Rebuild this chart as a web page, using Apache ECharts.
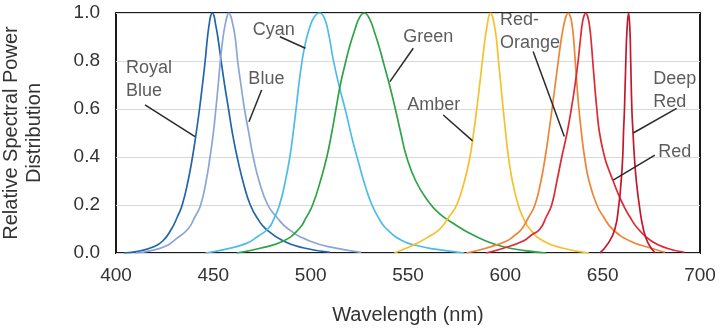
<!DOCTYPE html>
<html><head><meta charset="utf-8">
<script src="https://cdn.jsdelivr.net/npm/echarts@6/dist/echarts.min.js"></script>
<style>html,body{margin:0;padding:0;background:#fff}#c{width:720px;height:330px}</style>
</head><body><div id="c"></div>
<script>
const xTicks = [400, 450, 500, 550, 600, 650, 700];
const yTicks = [0, 0.2, 0.4, 0.6, 0.8, 1.0];
const seriesNames = ['Royal Blue', 'Blue', 'Cyan', 'Green', 'Amber', 'Red-Orange', 'Red', 'Deep Red'];

const royalBlue = [[404,0],[412,0.008],[419,0.025],[424,0.05],[428.5,0.1],[431.5,0.15],[434,0.2],[437,0.3],[439.3,0.4],[441.2,0.5],[442.9,0.6],[444.4,0.7],[445.8,0.8],[447,0.9],[448,0.96],[448.7,0.99],[449.5,1.0],[450.3,0.99],[451,0.96],[452.3,0.9],[454,0.8],[455.8,0.7],[457.8,0.6],[460,0.49],[462.5,0.39],[465.5,0.29],[469,0.2],[473,0.14],[477,0.1],[486,0.05],[496,0.022],[510,0.003]];
const blue = [[410,0],[418,0.01],[426,0.03],[431,0.06],[437,0.1],[440.5,0.15],[443.5,0.2],[446.3,0.3],[448.3,0.4],[450,0.5],[451.3,0.6],[452.5,0.7],[453.6,0.8],[455,0.9],[456.3,0.96],[457.2,0.99],[458,1.0],[458.8,0.99],[459.8,0.96],[461.2,0.9],[462.5,0.8],[464.2,0.7],[466,0.6],[468,0.51],[470.5,0.4],[473.5,0.3],[478,0.2],[482.5,0.15],[488.5,0.1],[499.5,0.05],[513,0.02],[526,0.003]];
const cyan = [[446,0],[456,0.015],[467,0.04],[473,0.07],[478,0.1],[481,0.14],[484,0.2],[487,0.3],[489.3,0.4],[491,0.5],[492.5,0.6],[493.9,0.7],[495.4,0.79],[497.2,0.87],[499.5,0.94],[502,0.985],[504.5,1.0],[507,0.98],[509.3,0.91],[511.5,0.81],[514.5,0.7],[518,0.59],[521.5,0.47],[524.5,0.38],[528,0.28],[531.5,0.2],[535,0.145],[539,0.1],[547.4,0.05],[555,0.03],[563,0.017],[579,0]];
const green = [[462,0],[474,0.02],[486,0.05],[494,0.1],[497.5,0.145],[501,0.2],[505,0.3],[508.3,0.4],[510.8,0.5],[513,0.6],[515.2,0.7],[517.5,0.78],[520,0.86],[522.7,0.93],[525,0.98],[527.5,1.0],[530,0.98],[532.8,0.92],[535.5,0.85],[537.5,0.79],[540.5,0.7],[543.5,0.6],[546.3,0.5],[549.3,0.4],[554,0.3],[560,0.22],[566,0.165],[574,0.12],[580,0.09],[590,0.05],[599,0.026],[610,0.01],[621,0]];
const amber = [[543,0],[554.4,0.04],[561,0.07],[566.4,0.1],[571,0.15],[575,0.2],[579,0.3],[581.8,0.4],[583.7,0.5],[585.3,0.6],[586.8,0.7],[588.2,0.8],[589.7,0.9],[590.9,0.96],[591.6,0.99],[592.4,1.0],[593.2,0.99],[594.1,0.96],[595.3,0.9],[596.5,0.8],[597.7,0.7],[598.9,0.6],[600.2,0.5],[601.6,0.4],[603.6,0.3],[606.6,0.2],[609,0.15],[612.6,0.1],[619.5,0.05],[629.7,0.02],[643,0]];
const redOrange = [[580,0],[590,0.02],[600.7,0.05],[605,0.075],[608.4,0.1],[612,0.15],[615.2,0.2],[618.3,0.3],[620.5,0.4],[622.3,0.5],[624,0.6],[625.6,0.7],[627.2,0.8],[628.9,0.9],[630.3,0.96],[631.4,0.99],[632.3,1.0],[633.2,0.99],[634.1,0.96],[635,0.9],[635.9,0.8],[636.8,0.7],[637.8,0.6],[639.1,0.5],[640.7,0.4],[643,0.3],[647,0.2],[650.5,0.15],[655,0.1],[664,0.05],[675,0.02],[682,0.003]];
const red = [[590,0],[599,0.02],[609.2,0.05],[613.5,0.075],[617.8,0.1],[621,0.15],[623.8,0.2],[626.5,0.3],[629,0.4],[631.7,0.5],[633.9,0.6],[635.8,0.7],[637.4,0.8],[638.7,0.9],[639.6,0.96],[640.5,0.99],[641.3,1.0],[642.1,0.99],[643,0.96],[643.9,0.9],[644.9,0.8],[645.9,0.7],[647,0.6],[648.4,0.5],[651,0.4],[653,0.35],[655.4,0.3],[657.8,0.25],[660.6,0.2],[664,0.15],[668.3,0.1],[675,0.05],[683,0.02],[692,0.003]];
const deepRed = [[648.6,0],[652.8,0.04],[656.3,0.1],[658.3,0.2],[659.5,0.3],[660.3,0.4],[660.7,0.5],[661.2,0.6],[661.9,0.8],[662.5,0.93],[663.3,1.0],[664,0.93],[664.4,0.8],[665,0.6],[665.6,0.5],[666.3,0.4],[667.3,0.3],[668.8,0.2],[670.9,0.1],[673.4,0.04],[677,0]];

const labelTexts = ['Royal\nBlue', 'Blue', 'Cyan', 'Green', 'Amber', 'Red-\nOrange', 'Red', 'Deep\nRed'];
const labelAnchors = [[405.1,0.817],[468.0,0.771],[470.2,0.979],[547.6,0.946],[549.6,0.6625],[597.3,1.017],[678.6,0.467],[676.0,0.771]];
const pointerLines = [
  [[414.9,0.617],[440.6,0.485]],
  [[474.8,0.679],[468.3,0.547]],
  [[484.2,0.901],[497.3,0.853]],
  [[552.7,0.853],[540.7,0.714]],
  [[568.1,0.575],[583.2,0.467]],
  [[614.3,0.840],[630.3,0.485]],
  [[676.8,0.408],[655.4,0.304]],
  [[688.0,0.603],[665.7,0.5]]
];

const allData = [royalBlue, blue, cyan, green, amber, redOrange, red, deepRed];
const colors = ['#2166ac', '#8aa6d4', '#4dbde8', '#2ea348', '#f6c02c', '#ee8435', '#dc2a35', '#c4172c'];
const FONT = '"Liberation Sans", Arial, sans-serif';

const series = allData.map((d, i) => ({
  name: seriesNames[i], type: 'line', data: d, showSymbol: false, smooth: 0.5,
  lineStyle: { color: colors[i], width: 1.7 }, itemStyle: { color: colors[i] },
  z: 2, animation: false
}));
series.push({
  type: 'lines', coordinateSystem: 'cartesian2d', polyline: false, animation: false, z: 3,
  lineStyle: { color: '#2a2a2a', width: 1.5, opacity: 1 },
  data: pointerLines.map(c => ({ coords: c }))
});
series.push({
  type: 'scatter', symbolSize: 0, clip: false, animation: false, z: 4,
  data: labelAnchors.map((p, i) => ({ value: p, name: labelTexts[i] })),
  label: { show: true, position: [0, 0], align: 'left', verticalAlign: 'top',
    formatter: p => p.name, fontFamily: FONT, fontSize: 18, lineHeight: 23, color: '#333' }
});

const chart = echarts.init(document.getElementById('c'), null, { renderer: 'canvas' });
chart.setOption({
  animation: false,
  backgroundColor: '#fff',
  grid: { left: 116, right: 20, top: 13, bottom: 77, containLabel: false, outerBoundsMode: 'none',
    show: true, borderColor: '#1a1a1a', borderWidth: 2, backgroundColor: 'transparent' },
  xAxis: {
    type: 'value', min: xTicks[0], max: xTicks[xTicks.length - 1], interval: 50,
    name: 'Wavelength (nm)', nameLocation: 'middle', nameGap: 52,
    nameTextStyle: { fontFamily: FONT, fontSize: 20, color: '#333' },
    axisLine: { show: false }, axisTick: { show: false }, splitLine: { show: false },
    axisLabel: { fontFamily: FONT, fontSize: 19, color: '#333', margin: 13 }
  },
  yAxis: {
    type: 'value', min: yTicks[0], max: yTicks[yTicks.length - 1], interval: 0.2,
    name: 'Relative Spectral Power\nDistribution', nameLocation: 'middle', nameGap: 70,
    nameTextStyle: { fontFamily: FONT, fontSize: 20, color: '#333', lineHeight: 23 },
    axisLine: { show: false }, axisTick: { show: false },
    splitLine: { show: true, lineStyle: { color: '#d9d9d9', width: 1 } },
    axisLabel: { fontFamily: FONT, fontSize: 19, color: '#333', margin: 16, formatter: v => v.toFixed(1) }
  },
  series: series
});
</script></body></html>
